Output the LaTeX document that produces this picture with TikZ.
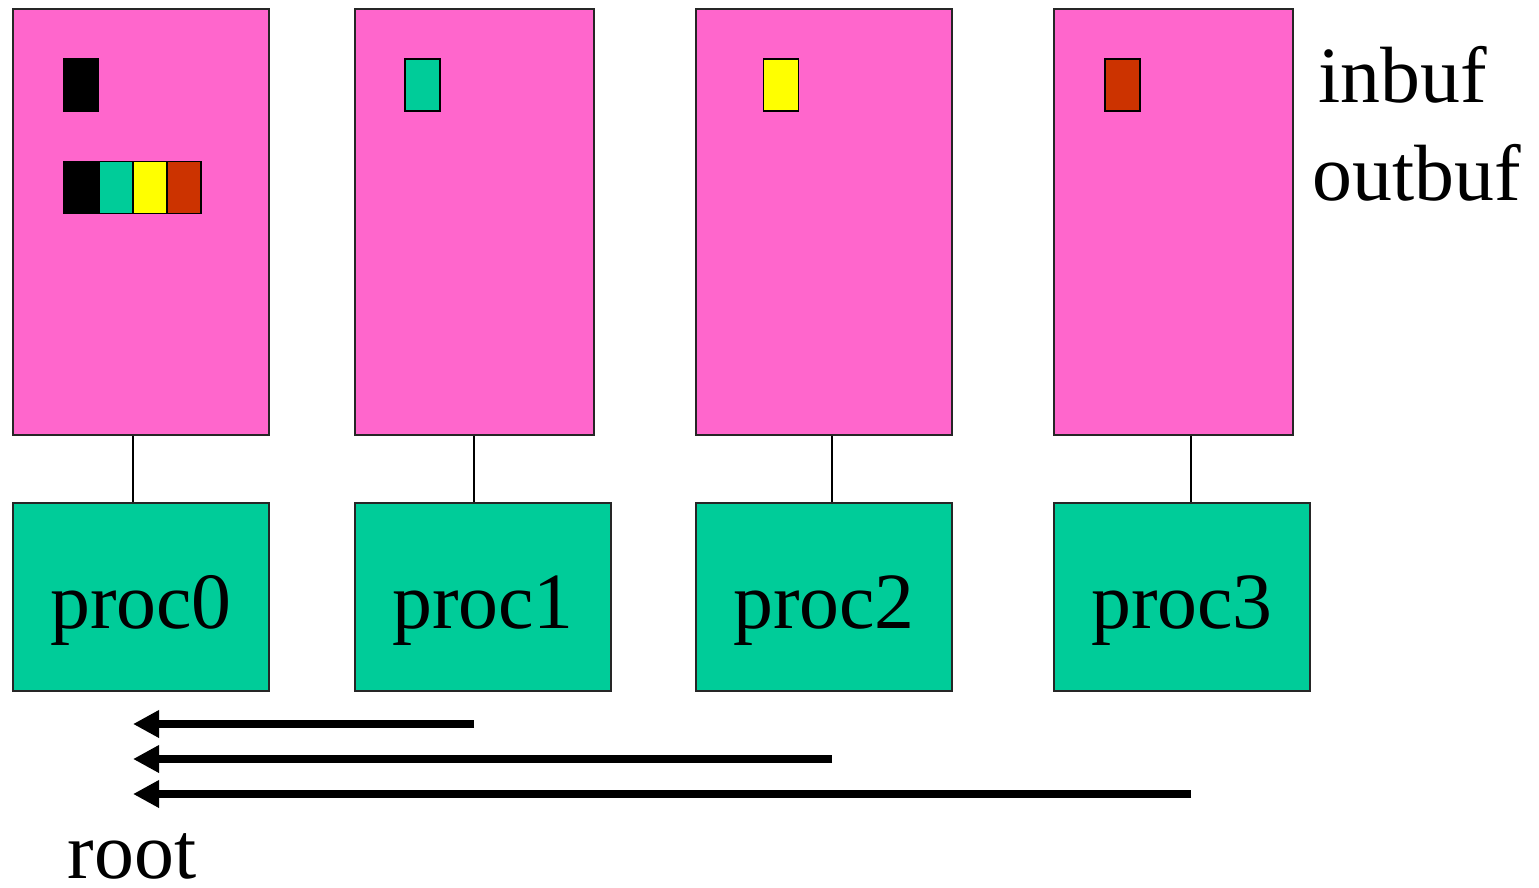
\documentclass[tikz,border=0pt]{standalone}
\usepackage{fontspec}
\setmainfont{Liberation Serif}
\usetikzlibrary{arrows.meta}
\definecolor{membuf}{HTML}{FF66CC}
\definecolor{procgreen}{HTML}{00CC99}
\definecolor{bufyellow}{HTML}{FFFF00}
\definecolor{bufred}{HTML}{CC3300}

\begin{document}
\begin{tikzpicture}[x=0.1mm,y=-0.1mm,
    mem node/.style={draw=black!85, line width=0.6pt, fill=membuf, inner sep=0pt, minimum height=42.6mm},
    proc node/.style={draw=black!85, line width=0.6pt, fill=procgreen, inner sep=0pt, minimum width=25.6mm, minimum height=18.8mm, text height=6.2mm, text depth=0mm, font=\fontsize{22.7}{27}\selectfont},
    cell/.style={draw=black, line width=0.4pt, inner sep=0pt, minimum width=3.5mm, minimum height=5.2mm},
    tag/.style={anchor=base west, inner sep=0pt, font=\fontsize{22.7}{27}\selectfont},
    gather/.style={line width=0.8mm, -{Triangle[length=2.6mm, width=2.6mm]}}]
    \useasboundingbox (0,0) rectangle (1539,888);
    % Memory
    \node[mem node, minimum width=25.6mm] (mem0) at (141,222) {};
    \node[mem node, minimum width=23.9mm] (mem1) at (474.5,222) {};
    \node[mem node, minimum width=25.6mm] (mem2) at (824,222) {};
    \node[mem node, minimum width=23.9mm] (mem3) at (1173.5,222) {};
    % Processes
    \node[proc node] (proc0) at (141,597) {proc0};
    \node[proc node] (proc1) at (483,597) {proc1};
    \node[proc node] (proc2) at (824,597) {proc2};
    \node[proc node] (proc3) at (1182,597) {proc3};
    % inbuf
    \node[cell, fill=black] (in0) at (81,85) {};
    \node[cell, fill=procgreen] (in1) at (422.5,85) {};
    \node[cell, fill=bufyellow] (in2) at (781,85) {};
    \node[cell, fill=bufred] (in3) at (1122.5,85) {};
    % outbuf
    \node[cell, fill=black] (out0) at (81,187.5) {};
    \node[cell, fill=procgreen, minimum width=3.4mm] (out1) at (116,187.5) {};
    \node[cell, fill=bufyellow, minimum width=3.4mm] (out2) at (150,187.5) {};
    \node[cell, fill=bufred, minimum width=3.4mm] (out3) at (184,187.5) {};

    \node[tag] (inlabel) at (1318,102) {inbuf};
    \node[tag] (outlabel) at (1312,200) {outbuf};
    \node[tag] (rootlabel) at (67,878) {root};

    % links
    \coordinate (c0) at (133,0);
    \coordinate (c1) at (474,0);
    \coordinate (c2) at (832,0);
    \coordinate (c3) at (1191,0);
    \foreach \i in {0,...,3}
        \draw[line width=0.6pt] (mem\i.south -| c\i) -- (proc\i.north -| c\i);

    % gather to root
    \coordinate (r1) at (133,724);
    \coordinate (r2) at (133,759);
    \coordinate (r3) at (133,794);
    \foreach \i in {1,2,3}
        \draw[gather] (c\i |- r\i) -- (r\i);
\end{tikzpicture}
\end{document}
